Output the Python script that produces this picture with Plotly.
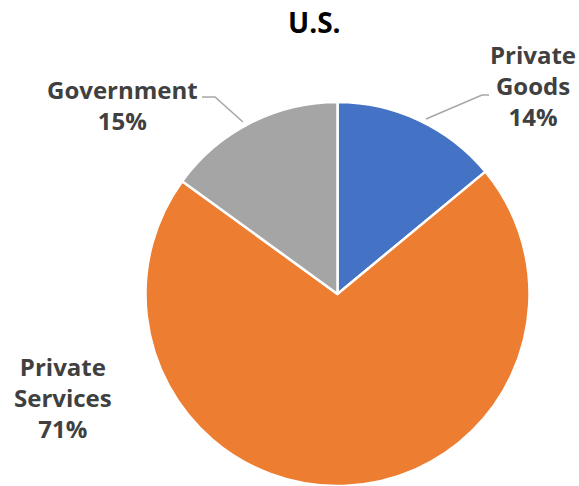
import plotly.graph_objects as go

# Data
categories = ["Private Goods", "Private Services", "Government"]
shares = [14, 71, 15]
colors = ["#4472C4", "#ED7D31", "#A5A5A5"]
chart_title = "U.S."

W, H = 579, 486
FONT = "Open Sans"
TXT = "#404040"

fig = go.Figure()
fig.add_trace(go.Pie(
    labels=categories,
    values=shares,
    sort=False,
    direction="clockwise",
    rotation=0,
    textinfo="none",
    hoverinfo="label+percent",
    marker=dict(colors=colors, line=dict(color="white", width=2.5)),
    domain=dict(x=[145.5 / W, 529.5 / W], y=[0, 384 / H]),
    showlegend=False,
))


def px(x):
    return x / W


def py(y):
    return 1 - y / H


labels_pos = {
    "Government": (122, 105),
    "Private Goods": (533, 85),
    "Private Services": (63, 397),
}
label_text = {
    "Government": "Government<br>{}%",
    "Private Goods": "Private<br>Goods<br>{}%",
    "Private Services": "Private<br>Services<br>{}%",
}
annotations = []
for cat, val in zip(categories, shares):
    x, y = labels_pos[cat]
    annotations.append(dict(
        x=px(x), y=py(y), xref="paper", yref="paper",
        text="<b>" + label_text[cat].format(val) + "</b>",
        showarrow=False, xanchor="center", yanchor="middle",
        align="center",
        font=dict(family=FONT, size=24, color=TXT),
    ))
annotations.append(dict(
    x=px(314.5), y=py(22), xref="paper", yref="paper",
    text="<b>" + chart_title + "</b>", showarrow=False,
    xanchor="center", yanchor="middle",
    font=dict(family=FONT, size=28, color="#000000"),
))

leaders = [
    [(202, 97), (215, 97), (243, 122)],
    [(489, 95), (482, 95), (426, 119)],
]
shapes = []
for pts in leaders:
    path = "M " + " L ".join(f"{px(x):.5f},{py(y):.5f}" for x, y in pts)
    shapes.append(dict(type="path", xref="paper", yref="paper", path=path,
                       line=dict(color="#A6A6A6", width=1.5)))

fig.update_layout(
    width=W, height=H,
    margin=dict(l=0, r=0, t=0, b=0),
    paper_bgcolor="white", plot_bgcolor="white",
    annotations=annotations, shapes=shapes,
)

fig.write_html(
    "out.html",
    config={"displayModeBar": False},
    post_script="document.body.style.margin='0px';document.body.style.overflow='hidden';",
)
